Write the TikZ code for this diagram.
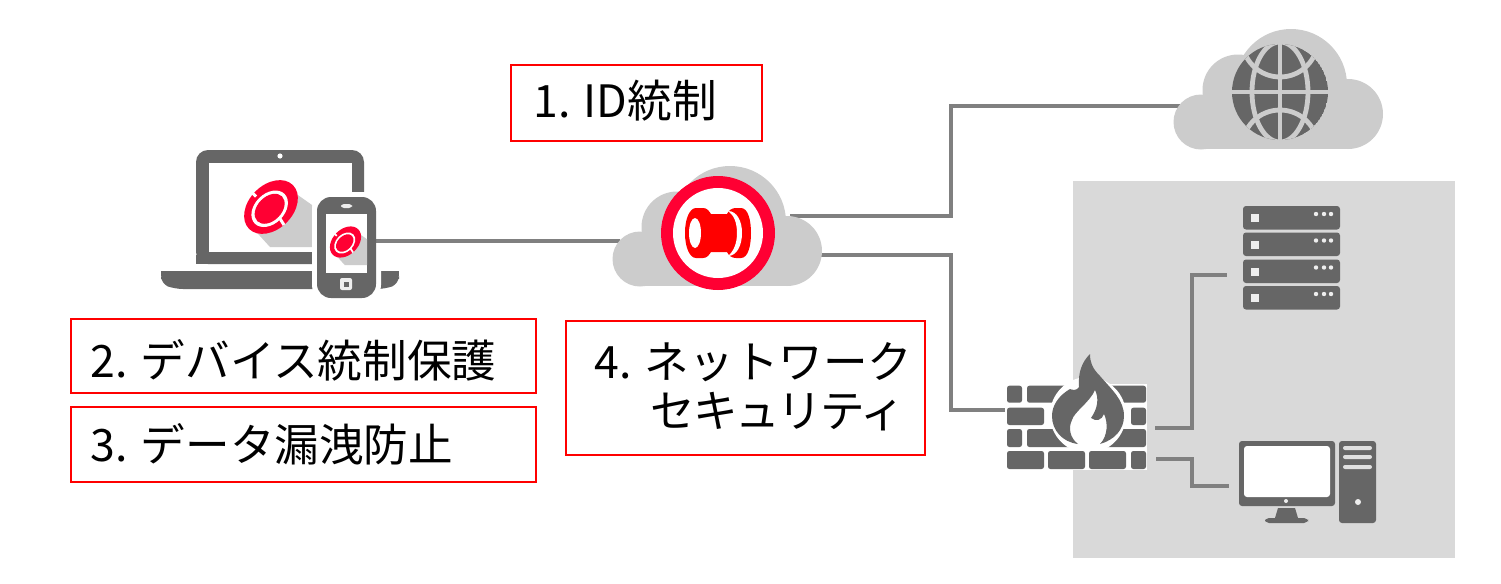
\documentclass[tikz,border=0pt]{standalone}
\usepackage{fontspec}
\setmainfont{Noto Sans CJK JP}
\definecolor{dk}{HTML}{666666}
\definecolor{ln}{HTML}{808080}
\definecolor{cl}{HTML}{CCCCCC}
\definecolor{pane}{HTML}{D9D9D9}
\definecolor{crim}{HTML}{FF0033}
\definecolor{lite}{HTML}{EEEEEE}
\newcommand{\cloudat}[2]{%
  \begin{scope}[shift={(#1,#2)}]
    \fill[cl] (640,259) circle[radius=27.5];
    \fill[cl] (677,227) circle[radius=35.5];
    \fill[cl] (730,222) circle[radius=56];
    \fill[cl] (787,251) circle[radius=35];
    \fill[cl] (640,240) rectangle (787,286);
  \end{scope}}
\newcommand{\logoat}[4]{%
  \begin{scope}[shift={(#1,#2)},scale=#3]
    \fill[cl] (24,-14) -- (41,-2) -- (41,40) -- (-1,40) -- (-21,18) -- cycle;
    \fill[crim,rotate=45] (0,0) ellipse[x radius=31,y radius=22];
    \fill[white,rotate=45,shift={(-2.2,0.3)}] (0,0) ellipse[x radius=21,y radius=15];
    \fill[crim,rotate=45,shift={(-2.2,0.3)}] (0,0) ellipse[x radius=17.5,y radius=12];
    \draw[white,line width=#4*3] (-15,-10.5) -- (-21,-16.5);
    \draw[white,line width=#4*3] (8,10) -- (13,18);
  \end{scope}}
\tikzset{
  link/.style={draw=ln,line width=2.2pt},
  tag/.style={draw=red,line width=1pt},
  label/.style={inner sep=0pt,font=\fontsize{22.3}{26}\selectfont},
  ico/.style={fill=dk,rounded corners=1.5pt},
  brick/.style={fill=dk,rounded corners=1.2pt},
}
\begin{document}
\begin{tikzpicture}[x=0.5pt,y=-0.5pt]
\useasboundingbox (0,0) rectangle (1501,584);
\fill[white] (0,0) rectangle (1501,584);
\fill[pane] (1073,181) rectangle (1455,558);
% connector ends
\coordinate (phoneR) at (372,241);
\coordinate (idcloudL) at (620,241);
\coordinate (idcloudA) at (790,216);
\coordinate (idcloudB) at (815,255);
\coordinate (trunkA) at (951,160);
\coordinate (trunkB) at (951,330);
\coordinate (webL) at (1185,106);
\coordinate (fwL) at (1010,410);
\coordinate (fwA) at (1155,428);
\coordinate (fwB) at (1156,459);
\coordinate (branch) at (1192,350);
\coordinate (srvL) at (1227,275);
\coordinate (pcL) at (1229,486);
\draw[link] (idcloudA) -| (trunkA) |- (webL);
\draw[link] (idcloudB) -| (trunkB) |- (fwL);
\draw[link] (fwA) -| (branch) |- (srvL);
\draw[link] (fwB) -| (branch |- pcL) -- (pcL);
% laptop
\fill[dk,rounded corners=6pt] (196,264) -- (196,150) -- (364,150) -- (364,264) -- cycle;
\fill[dk] (196,255) rectangle (364,264);
\fill[white] (209,163) rectangle (352,252);
\fill[white] (280,156) circle[radius=2.6];
\fill[dk,rounded corners=4pt] (161,271) -- (399,271) -- (399,284) -- (385,289) -- (175,289) -- (161,284) -- cycle;
\fill[dk] (161,271) rectangle (399,276);
\logoat{271}{207}{1}{0.5pt}
% phone
\fill[white,rounded corners=9pt] (312,192) rectangle (381,303);
\draw[link] (phoneR) -- (idcloudL);
\fill[dk,rounded corners=7pt] (317,197) rectangle (376,298);
\fill[white] (326,214) rectangle (367,273);
\fill[lite,rounded corners=1.5pt] (341,204) rectangle (352,208);
\fill[lite,rounded corners=1pt] (340,278) rectangle (352,290);
\fill[dk] (343.5,281.5) rectangle (348.5,286.5);
\begin{scope}
  \clip (326,214) rectangle (367,273);
  \logoat{345.5}{242}{0.58}{0.29pt}
\end{scope}
% clouds
\cloudat{0}{0}
\cloudat{561}{-137}
% id ring
\fill[crim] (718,233) circle[radius=57];
\fill[white] (718,233) circle[radius=45];
\fill[red] (685,233) .. controls (685,218) and (690,208) .. (696,208) -- (703,208) .. controls (707,208) and (709,211) .. (711,214) -- (727,214) .. controls (729,210) and (732,208) .. (736,208) -- (741,208) .. controls (748,208) and (751,220) .. (751,233) .. controls (751,246) and (748,258) .. (741,258) -- (736,258) .. controls (732,258) and (729,256) .. (727,252) -- (711,252) .. controls (709,255) and (707,258) .. (703,258) -- (696,258) .. controls (690,258) and (685,248) .. (685,233) -- cycle;
\fill[white] (695,233) ellipse[x radius=6,y radius=15];
\fill[white] (728,211) .. controls (737,211) and (742,221) .. (742,233) .. controls (742,245) and (737,256) .. (728,256) .. controls (734,251) and (737,243) .. (737,233) .. controls (737,223) and (734,215) .. (728,211) -- cycle;
% globe
\begin{scope}
  \clip (1280,92) circle[radius=48];
  \fill[dk] (1280,92) circle[radius=48];
  \draw[cl,line width=2.2pt] (1232,92) -- (1328,92) (1280,44) -- (1280,140);
  \draw[cl,line width=2.4pt] (1280,92) ellipse[x radius=28,y radius=50];
  \draw[cl,line width=2.4pt] (1280,39) circle[radius=38];
  \draw[cl,line width=2.4pt] (1280,148) circle[radius=38];
\end{scope}
% servers
\foreach \t in {206,232.5,259.5,286}{
  \fill[ico] (1243,\t) rectangle (1340,\t+23.5);
  \fill[lite] (1251,\t+8) rectangle (1259,\t+16);
  \foreach \u in {1316,1324,1331}{\fill[lite] (\u,\t+8) circle[radius=2.2];}
}
% pc
\fill[ico] (1239,441) rectangle (1335,506);
\fill[white,rounded corners=1.5pt] (1244,446) rectangle (1330,497);
\fill[lite] (1286,501) circle[radius=2];
\fill[dk] (1278,508) -- (1295,508) -- (1298,518) -- (1275,518) -- cycle;
\fill[dk,rounded corners=2pt] (1265,518) rectangle (1308,523);
\fill[ico] (1339,441) rectangle (1376,523);
\foreach \t in {448,457,467}{\fill[lite!90!dk,rounded corners=1pt] (1343,\t-2) rectangle (1372,\t+2);}
\fill[lite] (1358,502) circle[radius=3];
% firewall
\fill[white] (1005,384) rectangle (1147,470);
\foreach \a/\b/\c/\d in {1007/385.7/1022/402.7,1027/385.7/1090/402.7,1090/385.7/1146/402.7,
  1007/407.7/1044/425,1131/407.7/1146/425,
  1007/429/1022/447,1027/429/1090/447,1090/429/1146/447}{
  \fill[brick] (\a,\b) rectangle (\c,\d);}
\fill[white] (1088,415) circle[radius=38];
\foreach \a/\b/\c/\d in {1007/451/1044/469,1048/451/1085/469,1089/451/1126/469,1131/451/1146/469}{
  \fill[brick] (\a,\b) rectangle (\c,\d);}
\fill[dk] (1090,354) .. controls (1082,362) and (1078,372) .. (1079,387) .. controls (1077,391) and (1072,390) .. (1070,389) .. controls (1058,396) and (1052,406) .. (1052,416) .. controls (1052,430) and (1062,442) .. (1078,444) .. controls (1070,438) and (1068,428) .. (1072,420) .. controls (1074,412) and (1090,402) .. (1095,390) .. controls (1099,398) and (1098,408) .. (1091,418) .. controls (1096,422) and (1102,420) .. (1104,414) .. controls (1108,422) and (1108,436) .. (1100,444) .. controls (1114,440) and (1124,430) .. (1124,416) .. controls (1124,400) and (1112,390) .. (1100,376) .. controls (1092,368) and (1090,362) .. (1090,354) -- cycle;
% text boxes
\draw[tag] (511,65) rectangle (762,141);
\draw[tag] (71,319) rectangle (536,393);
\draw[tag] (71,407) rectangle (536,482);
\draw[tag] (566,321) rectangle (925,455);
\node[label,anchor=west] (t1) at (533,101) {1. ID統制};
\node[label,anchor=west] (t2) at (90,360) {2. デバイス統制保護};
\node[label,anchor=west] (t3) at (90,444) {3. データ漏洩防止};
\node[label,anchor=east] (t4a) at (913,362) {4. ネットワーク};
\node[label,anchor=east] (t4b) at (905,412) {\addfontfeature{LetterSpace=-5}セキュリティ};
\end{tikzpicture}
\end{document}
